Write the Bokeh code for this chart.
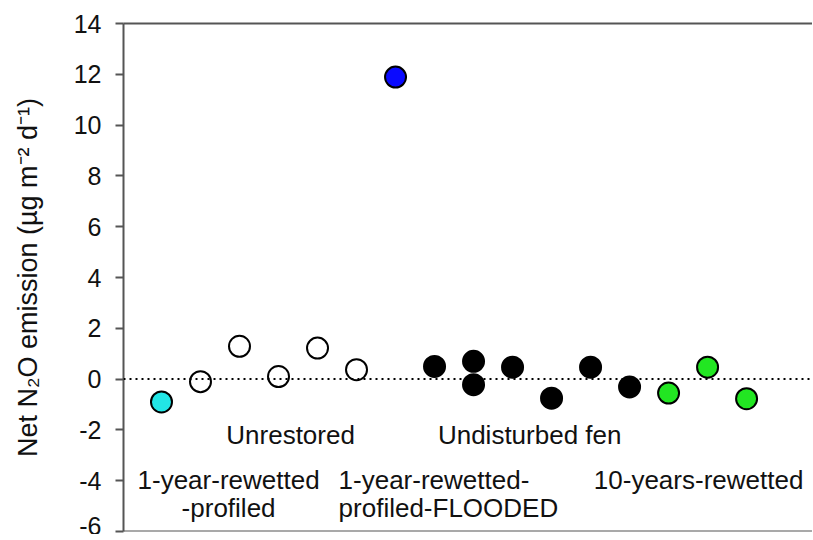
from bokeh.plotting import figure
from bokeh.models import FixedTicker, LinearAxis, Span, ColumnDataSource, Range1d, PrintfTickFormatter
from bokeh.core.properties import value
from bokeh.embed import file_html
from bokeh.resources import INLINE

# ---- data ----
site_pos = [1, 2, 3, 4, 5, 6, 7, 8, 9, 9, 10, 11, 12, 13, 14, 15, 16]
n2o = [-0.9, -0.1, 1.29, 0.1, 1.22, 0.37, 11.89, 0.5, 0.7, -0.22, 0.47, -0.75, 0.47, -0.31, -0.55, 0.47, -0.77]
group = ["1-year-rewetted-profiled"] + ["Unrestored"] * 5 + ["1-year-rewetted-profiled-FLOODED"] + \
        ["Undisturbed fen"] * 7 + ["10-years-rewetted"] * 3
group_colors = {
    "1-year-rewetted-profiled": "#22e6e6",
    "Unrestored": "#ffffff",
    "1-year-rewetted-profiled-FLOODED": "#0a0aff",
    "Undisturbed fen": "#000000",
    "10-years-rewetted": "#22e622",
}
y_ticks = [-6, -4, -2, 0, 2, 4, 6, 8, 10, 12, 14]

# label texts (group names on the plot)
label_text = ["Unrestored", "Undisturbed fen", "1-year-rewetted", "-profiled",
              "10-years-rewetted"]
label_x = [4.31, 10.44, 2.72, 2.72, 14.77]
label_y = [-2.2, -2.2, -3.99, -5.06, -3.99]
flood_text = ["1-year-rewetted-", "profiled-FLOODED"]
flood_x = [5.54, 5.54]
flood_y = [-3.99, -5.06]

FONT = "Liberation Sans"
TXT = "#111111"

p = figure(width=812, height=534, output_backend="svg", toolbar_location=None,
           x_range=Range1d(0.026, 17.69), y_range=Range1d(-6, 14),
           min_border_left=123, min_border_right=0, min_border_top=23, min_border_bottom=3)
p.outline_line_color = None
p.outline_line_alpha = 0
p.outline_line_width = 0
p.xgrid.visible = False
p.ygrid.visible = False
p.xaxis.visible = False
p.background_fill_color = "white"
p.border_fill_color = "white"

AX_COLOR = "#555555"

# y axis
ya = p.yaxis[0]
ya.ticker = FixedTicker(ticks=y_ticks)
ya.formatter = PrintfTickFormatter(format="%d")
ya.axis_line_color = AX_COLOR
ya.axis_line_width = 2
ya.major_tick_line_color = AX_COLOR
ya.major_tick_line_width = 2
ya.major_tick_out = 8
ya.major_tick_in = 0
ya.minor_tick_line_color = None
ya.major_label_text_font = FONT
ya.major_label_text_font_size = "25px"
ya.major_label_text_color = TXT
ya.major_label_standoff = 14
ya.axis_label = "Net N\u2082O emission (\u00b5g m\u207b\u00b2 d\u207b\u00b9)"
ya.axis_label_text_font = FONT
ya.axis_label_text_font_size = "27px"
ya.axis_label_text_font_style = "normal"
ya.axis_label_text_color = TXT
ya.axis_label_standoff = 28

# top line
top = LinearAxis(ticker=FixedTicker(ticks=[]), axis_line_color=AX_COLOR, axis_line_width=2,
                 major_tick_line_color=None, minor_tick_line_color=None)
p.add_layout(top, "above")

# bottom line (frame bottom at y = -6)
p.add_layout(Span(location=-6, dimension="width", line_color=AX_COLOR, line_width=2))

# zero line
p.add_layout(Span(location=0, dimension="width", line_color="black",
                  line_width=2, line_dash="2 4"))

src = ColumnDataSource(dict(x=site_pos, y=n2o, c=[group_colors[g] for g in group], g=group))
p.scatter("x", "y", source=src, size=21, fill_color="c", line_color="black",
          line_width=2, marker="circle")

p.text(x=label_x, y=label_y, text=label_text, text_font=value(FONT),
       text_font_size="26px", text_align="center", text_baseline="middle",
       text_color=TXT)
p.text(x=flood_x, y=flood_y, text=flood_text, text_font=value(FONT),
       text_font_size="26px", text_align="left", text_baseline="middle",
       text_color=TXT)

open("out.html", "w").write(file_html(p, INLINE))
